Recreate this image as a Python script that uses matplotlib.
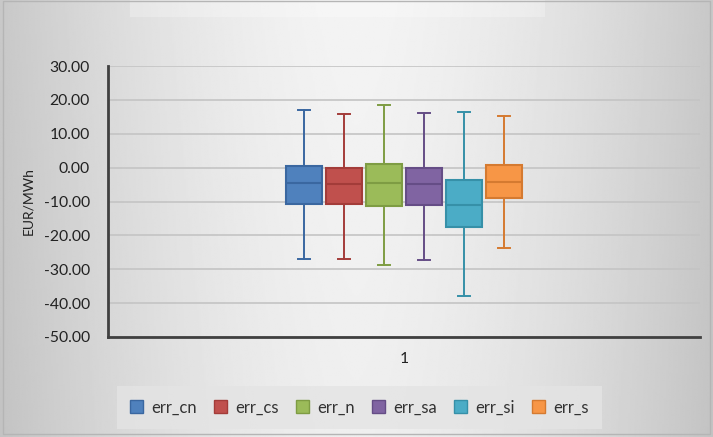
import matplotlib.pyplot as plt
import numpy as np
from matplotlib.patches import Patch, Rectangle

# box statistics per series (EUR/MWh)
series = ['err_cn', 'err_cs', 'err_n', 'err_sa', 'err_si', 'err_s']
whisker_lo = [-27.1, -26.9, -28.7, -27.3, -37.8, -23.8]
q1 = [-10.6, -10.6, -11.2, -11.0, -17.5, -9.1]
median = [-4.6, -4.9, -4.4, -4.9, -10.9, -4.2]
q3 = [0.5, 0.0, 1.0, 0.0, -3.8, 0.7]
whisker_hi = [16.9, 15.9, 18.6, 16.1, 16.4, 15.3]

fills = ['#4F81BD', '#C0504D', '#9BBB59', '#8064A2', '#4BACC6', '#F79646']
edges = ['#3A67A0', '#A33C39', '#7E9C43', '#654D86', '#3690A8', '#D57A30']

W, H = 713, 437
fig = plt.figure(figsize=(W / 100, H / 100), dpi=100)
plt.rcParams['font.family'] = ['Lato', 'DejaVu Sans']

# chart background: grey edges fading to a light centre
bg = fig.add_axes([0, 0, 1, 1], zorder=-10)
xs = np.linspace(-1, 1, 400)
ys = np.linspace(0, 1, 250)
gx, gy = np.meshgrid(xs, ys)
shade = 0.955 - 0.17 * np.abs(gx) ** 1.6 - 0.02 * gy
bg.imshow(shade, cmap='gray', vmin=0, vmax=1, aspect='auto',
          extent=[0, W, H, 0], interpolation='bilinear')
bg.add_patch(Rectangle((130, 0), 415, 17, color='white', alpha=0.25, lw=0))
bg.add_patch(Rectangle((3, 1), W - 6, H - 4, fill=False, ec='#b5b5b5', lw=1))
bg.set_xlim(0, W)
bg.set_ylim(H, 0)
bg.axis('off')

ax = fig.add_axes([108 / W, (H - 337) / H, (700 - 108) / W, (337 - 66) / H])
ax.patch.set_alpha(0)

n = len(series)
spacing = 40 / 592
width = 36 / 592
positions = [1 + (i - (n - 1) / 2) * spacing for i in range(n)]

stats = []
for i in range(n):
    stats.append({'whislo': whisker_lo[i], 'q1': q1[i], 'med': median[i],
                  'q3': q3[i], 'whishi': whisker_hi[i], 'fliers': []})

bp = ax.bxp(stats, positions=positions, widths=width, patch_artist=True,
            showfliers=False, capwidths=0.02, manage_ticks=False)
for i in range(n):
    bp['boxes'][i].set(facecolor=fills[i], edgecolor=edges[i], linewidth=1.5)
    bp['medians'][i].set(color=edges[i], linewidth=1.5)
    for ln in bp['whiskers'][2 * i:2 * i + 2] + bp['caps'][2 * i:2 * i + 2]:
        ln.set(color=edges[i], linewidth=1.4)

ax.set_xlim(0.5, 1.5)
ax.set_ylim(-50, 30)
ax.set_yticks(np.arange(-50, 31, 10))
ax.set_yticklabels([f'{v:.2f}' for v in np.arange(-50, 31, 10)])
ax.set_xticks([1])
ax.set_xticklabels(['1'])
ax.yaxis.grid(True, color='#c4c4c4', linewidth=1.2)
ax.set_axisbelow(True)
ax.tick_params(length=0, labelsize=11.3, colors='#222222', pad=13)
ax.tick_params(axis='x', pad=11)
for side in ['top', 'right']:
    ax.spines[side].set_visible(False)
for side in ['left', 'bottom']:
    ax.spines[side].set_color('#404040')
    ax.spines[side].set_linewidth(2)
ax.set_ylabel('EUR/MWh', fontsize=10, color='#222222', labelpad=7)

handles = [Patch(facecolor=fills[i], edgecolor=edges[i], linewidth=1, label=series[i])
           for i in range(n)]
leg = fig.legend(handles=handles, ncol=n, loc='center',
                 bbox_to_anchor=((117 + 602) / 2 / W, 1 - (387 + 428) / 2 / H),
                 frameon=True, fontsize=12, handlelength=0.8, handleheight=0.8,
                 handletextpad=0.5, columnspacing=1.0, borderpad=0.8,
                 labelcolor='#333333')
leg.get_frame().set_facecolor('#e4e4e4')
leg.get_frame().set_edgecolor('none')
leg.get_frame().set_boxstyle('square', pad=0)

fig.savefig('out.png', dpi=100)
